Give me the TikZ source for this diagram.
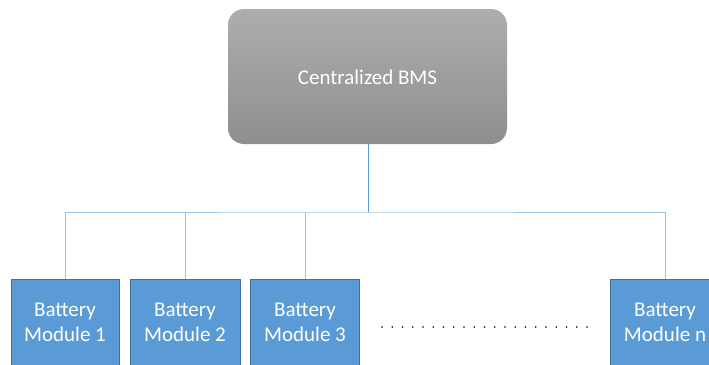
\documentclass[tikz,border=0pt]{standalone}
\usepackage{fontspec}
\setmainfont{Carlito}
\definecolor{modfill}{HTML}{5B9BD5}
\definecolor{moddraw}{HTML}{41719C}
\definecolor{wire}{HTML}{9DC3E6}
\definecolor{wiredark}{HTML}{5B9BD5}
\begin{document}
\begin{tikzpicture}[x=1pt,y=-1pt,
  bms/.style={draw=none, rounded corners=16pt, top color=black!32, bottom color=black!44},
  modbox/.style={draw=moddraw, line width=0.8pt, fill=modfill},
  label/.style={text=white, align=center, font=\fontsize{21}{25}\selectfont},
  link/.style={draw=wire, line width=0.9pt}]
\useasboundingbox (0,0) rectangle (709,364);
\clip (0,0) rectangle (709,364);
% central controller
\path[bms] (228,9) rectangle (507,144);
\node[label] (bms) at (367.5,77) {Centralized BMS};
\coordinate (bmsb) at (368,144);
% battery modules
\path[modbox] (11,279) rectangle (119,380);
\path[modbox] (130,279) rectangle (240,380);
\path[modbox] (250,279) rectangle (359,380);
\path[modbox] (610,279) rectangle (719,380);
\node[label] (m1) at (65,322) {Battery\\Module 1};
\node[label] (m2) at (185,322) {Battery\\Module 2};
\node[label] (m3) at (305,322) {Battery\\Module 3};
\node[label] (mn) at (665,322) {Battery\\Module n};
\coordinate (t1) at (65,279);
\coordinate (t2) at (185,279);
\coordinate (t3) at (305,279);
\coordinate (tn) at (665,279);
\coordinate (bus) at (368,212);
% bus wiring
\draw[link] (t1) |- (bus) -| (tn);
\draw[link] (t2) -- (t2 |- bus);
\draw[link] (t3) -- (t3 |- bus);
\draw[draw=wiredark, line width=0.9pt] (bmsb) -- (bus);
% ellipsis between modules
\foreach \i in {0,...,20}
  \fill[black] (382+\i*10.25,327) circle (0.8pt);
\end{tikzpicture}
\end{document}
